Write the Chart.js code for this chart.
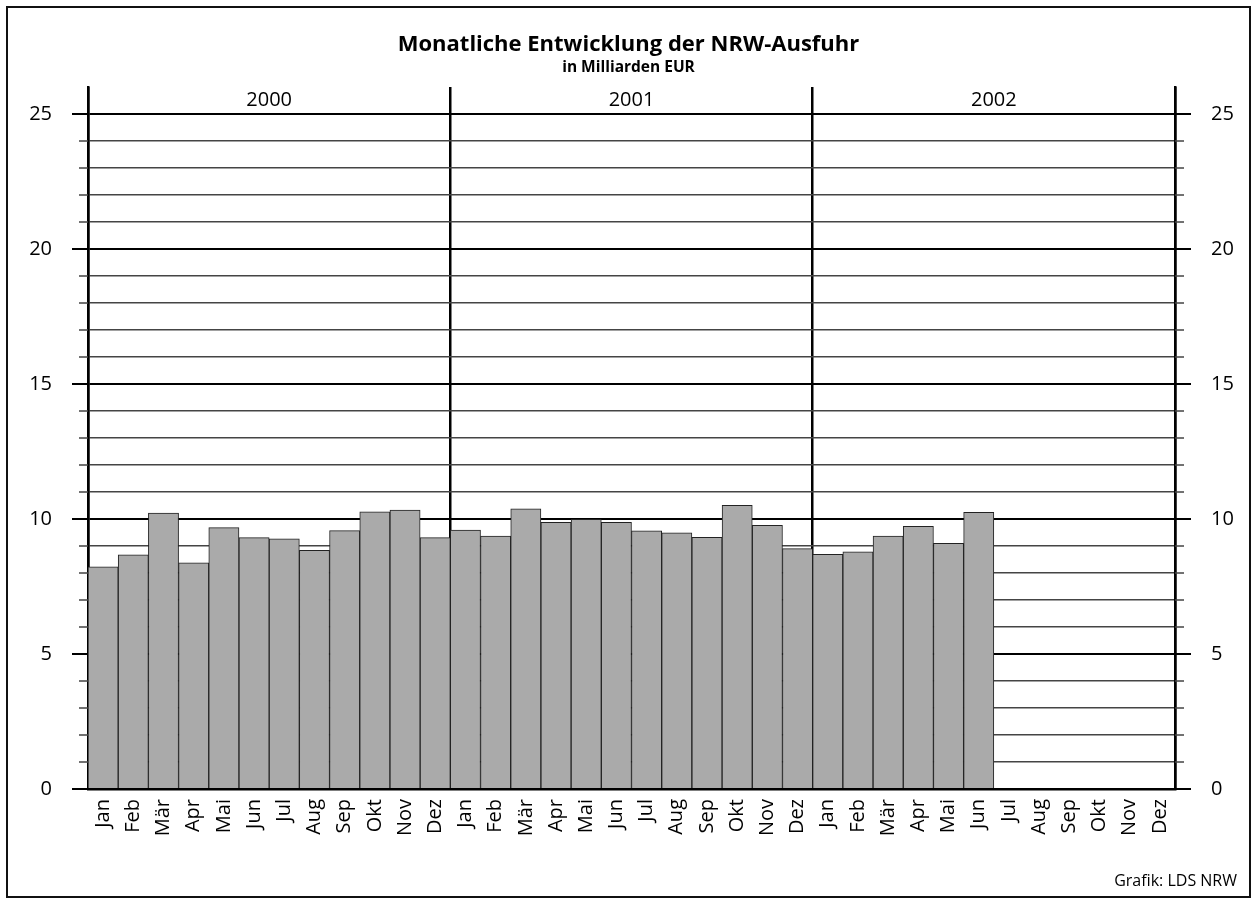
<!DOCTYPE html>
<html>
<head>
<meta charset="utf-8">
<script src="https://cdn.jsdelivr.net/npm/chart.js@4"></script>
<style>
  html, body { margin: 0; padding: 0; background: #fff; }
  #wrap { width: 1257px; height: 899px; }
</style>
</head>
<body>
<div id="wrap"><canvas id="nrw_chart" width="1257" height="899"></canvas></div>
<script>
// DATA
const monthNames = ["Jan", "Feb", "Mär", "Apr", "Mai", "Jun", "Jul", "Aug", "Sep", "Okt", "Nov", "Dez"];
const years = ["2000", "2001", "2002"];
const export2000 = [8.23, 8.67, 10.22, 8.38, 9.68, 9.31, 9.27, 8.84, 9.57, 10.27, 10.33, 9.31];
const export2001 = [9.59, 9.37, 10.38, 9.88, 9.99, 9.88, 9.56, 9.49, 9.32, 10.51, 9.77, 8.90];
const export2002 = [8.69, 8.78, 9.37, 9.73, 9.10, 10.25, null, null, null, null, null, null];
const yTickLabels = [0, 5, 10, 15, 20, 25];

const labels = [];
years.forEach(() => monthNames.forEach(m => labels.push(m)));
const values = export2000.concat(export2001, export2002);

const FONT = "'Open Sans', 'Noto Sans', sans-serif";

function tickLabel(value) {
  return yTickLabels.includes(value) ? String(value) : "";
}

// frame round the whole graphic, tick marks, year labels, credit
const extrasPlugin = {
  id: "extras",
  beforeDraw(chart) {
    const c = chart.ctx;
    c.save();
    c.fillStyle = "#fff";
    c.fillRect(0, 0, chart.width, chart.height);
    c.strokeStyle = "#111";
    c.lineWidth = 2;
    c.strokeRect(7, 7, chart.width - 14, chart.height - 9);
    c.restore();
  },
  afterDraw(chart) {
    const c = chart.ctx;
    const y = chart.scales.y;
    const x = chart.scales.x;
    const area = chart.chartArea;
    c.save();
    // tick marks left and right
    for (let v = 0; v <= 25; v++) {
      const py = y.getPixelForValue(v);
      const major = v % 5 === 0;
      const len = major ? 16 : 9;
      c.strokeStyle = major ? "#000" : "#444";
      c.lineWidth = major ? 2 : 1.5;
      c.beginPath();
      c.moveTo(area.left - len, py);
      c.lineTo(area.left, py);
      c.moveTo(area.right, py);
      c.lineTo(area.right + len, py);
      c.stroke();
    }
    // year labels
    c.fillStyle = "#000";
    c.font = "20px " + FONT;
    c.textAlign = "center";
    c.textBaseline = "middle";
    const yy = (y.getPixelForValue(26) + y.getPixelForValue(25)) / 2;
    years.forEach((yr, i) => {
      c.fillText(yr, x.getPixelForValue(i * 12 + 5.5), yy);
    });
    // credit
    c.font = "16px " + FONT;
    c.textAlign = "right";
    c.textBaseline = "alphabetic";
    c.fillText("Grafik: LDS NRW", chart.width - 20, chart.height - 13);
    c.restore();
  }
};

const ctx = document.getElementById("nrw_chart").getContext("2d");
new Chart(ctx, {
  type: "bar",
  data: {
    labels: labels,
    datasets: [{
      label: "Ausfuhr",
      data: values,
      backgroundColor: "#aaaaaa",
      borderColor: "#222",
      borderWidth: 1,
      barPercentage: 1,
      categoryPercentage: 1,
    }]
  },
  options: {
    responsive: false,
    animation: false,
    layout: { padding: { left: 0, right: 0, top: 0, bottom: 0 } },
    plugins: {
      legend: { display: false },
      tooltip: { enabled: false },
      title: {
        display: true,
        text: "Monatliche Entwicklung der NRW-Ausfuhr",
        color: "#000",
        font: { family: FONT, size: 22, weight: "bold", lineHeight: 1.2 },
        padding: { top: 32, bottom: 0 }
      },
      subtitle: {
        display: true,
        text: "in Milliarden EUR",
        color: "#000",
        font: { family: FONT, size: 15.5, weight: "bold", lineHeight: 1.2 },
        padding: { top: 0, bottom: 10 }
      }
    },
    scales: {
      x: {
        z: 1,
        offset: true,
        grid: {
          offset: true,
          drawTicks: false,
          color: (c) => (c.index === undefined || c.index % 12 === 0) ? "#000" : "rgba(0,0,0,0)",
          lineWidth: 2.5
        },
        border: { display: true, color: "#000", width: 2.5 },
        ticks: {
          autoSkip: false,
          maxRotation: 90,
          minRotation: 90,
          padding: 10,
          color: "#000",
          font: { family: FONT, size: 20 }
        },
        afterFit(scale) { scale.height = 110; }
      },
      y: {
        position: "left",
        min: 0,
        max: 26,
        ticks: {
          stepSize: 1,
          autoSkip: false,
          maxTicksLimit: 40,
          padding: 36,
          color: "#000",
          font: { family: FONT, size: 20 },
          callback: tickLabel
        },
        grid: {
          drawTicks: false,
          color: (c) => c.tick.value > 25 ? "rgba(0,0,0,0)" : (c.tick.value % 5 === 0 ? "#000" : "#444"),
          lineWidth: (c) => c.tick.value % 5 === 0 ? 2 : 1.5
        },
        border: { display: true, color: "#000", width: 2.5 },
        afterFit(scale) { scale.width = 88; }
      },
      y2: {
        position: "right",
        min: 0,
        max: 26,
        ticks: {
          stepSize: 1,
          autoSkip: false,
          maxTicksLimit: 40,
          padding: 36,
          color: "#000",
          font: { family: FONT, size: 20 },
          callback: tickLabel
        },
        grid: { display: false, drawTicks: false },
        border: { display: true, color: "#000", width: 2.5 },
        afterFit(scale) { scale.width = 82; }
      }
    }
  },
  plugins: [extrasPlugin]
});
</script>
</body>
</html>
